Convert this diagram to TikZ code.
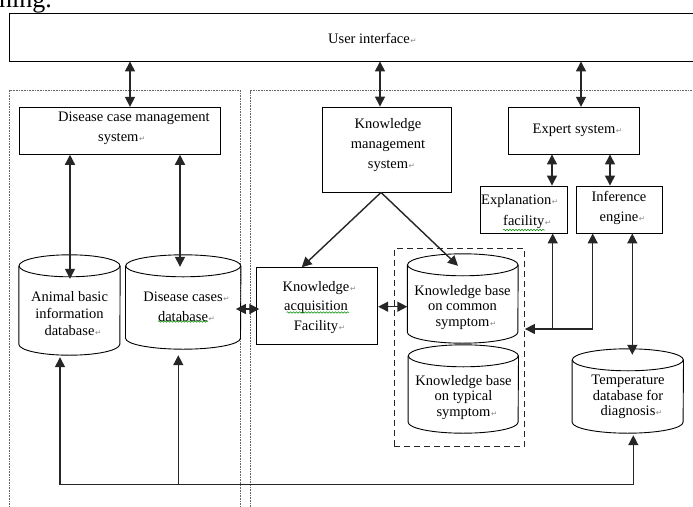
\documentclass[tikz,border=0pt]{standalone}
\usepackage{fontspec}
\setmainfont{Liberation Serif}
\newfontfamily\symf{DejaVu Sans}
\usetikzlibrary{arrows.meta,fit,calc,decorations.pathmorphing}
\newcommand\rt{\rlap{\kern0.6pt\textcolor{black!45}{\symf\fontsize{7.5}{7.5}\selectfont ↵}}}
\newcommand\drawcyl[3]{%
  \draw[cylline] ([yshift=-#3]#1.north west) -- ([yshift=#3]#1.south west)
    arc[start angle=180,end angle=360,x radius=#2,y radius=#3] -- ([yshift=-#3]#1.north east);
  \draw[cylline] ([yshift=-#3]#1.north) ellipse[x radius=#2,y radius=#3];
}
\begin{document}
\begin{tikzpicture}[x=1pt,y=-1pt,
  box/.style={draw=black, line width=0.9pt, inner sep=0},
  lbl/.style={align=center, inner sep=0, font=\fontsize{14.5}{19.5}\selectfont},
  lblc/.style={align=center, inner sep=0, font=\fontsize{14.5}{15.5}\selectfont},
  cylbb/.style={draw=none, inner sep=0},
  cylline/.style={draw=black, line width=0.9pt},
  conn/.style={draw=black!85, line width=1.4pt},
  tip/.tip={Triangle[length=10pt,width=10pt]},
  ar/.style={conn, -tip},
  dar/.style={conn, tip-tip},
  dotbox/.style={draw=black!60, line width=0.7pt, dash pattern=on 0.8pt off 0.8pt, inner sep=0},
  dashbox/.style={draw=black!85, line width=1.2pt, dash pattern=on 6pt off 4pt, inner sep=0},
  spell/.style={draw=green!55!black, line width=0.5pt, decorate, decoration={snake, amplitude=0.8pt, segment length=3pt}},
]
\useasboundingbox (0,0) rectangle (693,506);
\clip (0,0) rectangle (693,506);
\fill[white] (0,0) rectangle (693,506);

% fragment of surrounding text
\node[anchor=base west, inner sep=0, font=\fontsize{26}{26}\selectfont] (frag) at (-1,7.5) {ning.};

% containers
\node[dotbox, fit={(9.5,90.5) (240.5,530)}] (ldot) {};
\node[dotbox, fit={(250,90.5) (720,530)}] (rdot) {};
\node[dashbox, fit={(394.3,248.3) (524.3,446.7)}] (kbgrp) {};

% boxes
\node[box, fit={(9,13.5) (731,61)}] (ui) {};
\node[lbl] (ui-t) at (369,38) {User interface\rt};

\node[box, fit={(19.3,107.3) (220.7,154.3)}] (dcms) {};
\node[lbl, align=left, anchor=west] (dcms-t) at (58,128.5) {Disease case management\\\hspace*{40pt}system\rt};

\node[box, fit={(322.5,107) (451.5,192)}] (kms) {};
\node[lbl, font=\fontsize{14.5}{20}\selectfont] (kms-t) at (388,145) {Knowledge\\management\\system\rt};

\node[box, fit={(508.5,107.3) (639,154)}] (exp) {};
\node[lbl] (exp-t) at (574,130.7) {Expert system\rt};

\node[box, fit={(480.5,186) (567,233)}] (expl) {};
\node[lbl, align=left, anchor=west, font=\fontsize{14.5}{21.3}\selectfont] (expl-t) at (481,211.3) {Explanation\rt\\\hspace*{22pt}facility\rt};

\node[box, fit={(576.5,186) (662,233)}] (inf) {};
\node[lbl, font=\fontsize{14.5}{20}\selectfont] (inf-t) at (619,208) {Inference\\engine\rt};

\node[box, fit={(256.7,267.7) (377.7,344)}] (kaf) {};
\node[lbl, font=\fontsize{14.5}{19.2}\selectfont] (kaf-t) at (316,307.5) {Knowledge\rt\\acquisition\\Facility\rt};

% cylinders
\node[cylbb, fit={(19,255) (120,355)}] (anim) {};
\drawcyl{anim}{50.5pt}{11pt}
\node[lbl, font=\fontsize{14.5}{17}\selectfont] (anim-t) at (69.5,313.8) {Animal basic\\information\\database\rt};

\node[cylbb, fit={(125.7,255) (240.7,349)}] (dcdb) {};
\drawcyl{dcdb}{57.5pt}{11pt}
\node[lbl, font=\fontsize{14.5}{19.7}\selectfont] (dcdb-t) at (183,306.8) {Disease cases\rt\\database\rt};

\node[cylbb, fit={(407.5,254) (518,343)}] (kbc) {};
\drawcyl{kbc}{55.25pt}{11pt}
\node[lblc] (kbc-t) at (462.5,307.3) {Knowledge base\\on common\\symptom\rt};

\node[cylbb, fit={(408.3,345) (518.3,433)}] (kbt) {};
\drawcyl{kbt}{55pt}{11pt}
\node[lblc] (kbt-t) at (463.5,397.5) {Knowledge base\\on typical\\symptom\rt};

\node[cylbb, fit={(572.3,349) (683.3,433)}] (temp) {};
\drawcyl{temp}{55.5pt}{11pt}
\node[lblc] (temp-t) at (628,397.2) {Temperature\\database for\\diagnosis\rt};

% spell-check underlines
\draw[spell] (503,230) -- (545,230);
\draw[spell] (158,321.5) -- (208,321.5);
\draw[spell] (286.5,312.5) -- (349,312.5);

% connectors
\draw[dar] (130,0 |- ui.south) -- (130,0 |- dcms.north);
\draw[dar] (380,0 |- ui.south) -- (380,0 |- kms.north);
\draw[dar] (581,0 |- ui.south) -- (581,0 |- exp.north);
\draw[dar] (552,0 |- exp.south) -- (552,0 |- expl.north);
\draw[dar] (610,0 |- exp.south) -- (610,0 |- inf.north);

\draw[dar] (70,0 |- dcms.south) -- ($(70,0 |- anim.north)+(0,24)$);
\draw[dar] (180,0 |- dcms.south) -- ($(180,0 |- dcdb.north)+(0,12)$);

\draw[dar] ($(dcdb.east |- 0,309)+(-5,0)$) -- ($(kaf.west |- 0,309)+(3,0)$);
\draw[dar] (kaf.east |- 0,306.7) -- (kbc.west |- 0,306.7);

\draw[ar] (381,0 |- kms.south) -- (301.7,0 |- kaf.north);
\draw[ar] (381,0 |- kms.south) -- ($(458,0 |- kbc.north)+(0,12)$);

\draw[dar] (552.7,0 |- expl.south) -- (552.7,329) -- (592.7,329) -- (592.7,0 |- inf.south);
\draw[ar] (552.7,329) -- (kbgrp.east |- 0,329);

\draw[dar] (632.3,0 |- inf.south) -- ($(632.3,0 |- temp.north)+(0,6)$);

\draw[dar] ($(60,0 |- anim.south)+(0,2)$) -- (60,484.5) -- (633.3,484.5) -- ($(633.3,0 |- temp.south)+(0,2)$);
\draw[ar] (178.3,484.5) -- ($(178.3,0 |- dcdb.south)+(0,6)$);
\end{tikzpicture}
\end{document}
